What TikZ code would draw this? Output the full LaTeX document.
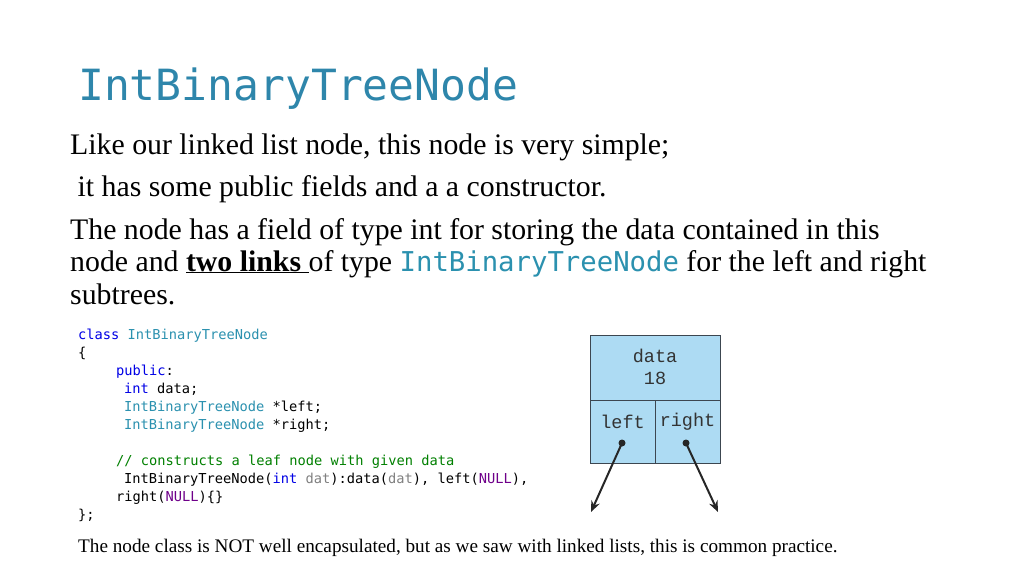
\documentclass[tikz,border=0pt]{standalone}
\usepackage{fontspec}
\setmainfont{Liberation Serif}
\newfontfamily\codef{DejaVu Sans Mono}
\newfontfamily\boxf{Liberation Mono}
\usetikzlibrary{arrows.meta}
\definecolor{ttl}{RGB}{46,134,171}
\definecolor{kw}{RGB}{0,0,230}
\definecolor{ty}{RGB}{43,145,175}
\definecolor{cm}{RGB}{0,128,0}
\definecolor{nl}{RGB}{111,0,138}
\definecolor{gr}{RGB}{128,128,128}
\definecolor{cell}{RGB}{173,219,243}
\definecolor{cellline}{RGB}{60,70,80}
\begin{document}
\begin{tikzpicture}[x=1pt,y=-1pt,
  body/.style={anchor=base west,inner sep=0,font=\fontsize{29.8}{30}\selectfont},
  code/.style={anchor=base west,inner sep=0,font=\codef\fontsize{13.7}{13.7}\selectfont},
  cellbox/.style={draw=cellline,fill=cell,line width=1pt},
  ptr/.style={line width=2pt,-{Stealth[length=11pt,width=9pt]}}]
\useasboundingbox (0,0) rectangle (1024,576);
\fill[white] (0,0) rectangle (1024,576);
\node[anchor=base west,inner sep=0,text=ttl,font=\codef\fontsize{43}{43}\selectfont] (title) at (78,100) {IntBinaryTreeNode};
\node[body] (l1) at (70,154) {Like our linked list node, this node is very simple;};
\node[body] (l2) at (70,196) {\ it has some public fields and a a constructor.};
\node[body] (l3) at (70,239) {The node has a field of type int for storing the data contained in this};
\node[body] (l4) at (70,271) {node and \textbf{\underline{two links }}of type {\codef\color{ty}\fontsize{27.3}{26}\selectfont IntBinaryTreeNode} for the left and right};
\node[body] (l5) at (70,304) {subtrees.};
\node[code] (c1) at (78,339) {\color{kw}class \color{ty}IntBinaryTreeNode};
\node[code] (c2) at (78,357) {\{};
\node[code] (c3) at (116,375) {\color{kw}public\color{black}:};
\node[code] (c4) at (124,393) {\color{kw}int \color{black}data;};
\node[code] (c5) at (124,411) {\color{ty}IntBinaryTreeNode \color{black}*left;};
\node[code] (c6) at (124,429) {\color{ty}IntBinaryTreeNode \color{black}*right;};
\node[code] (c7) at (116,465) {\color{cm}// constructs a leaf node with given data};
\node[code] (c8) at (124,483) {IntBinaryTreeNode(\textcolor{kw}{int} \textcolor{gr}{dat}):data(\textcolor{gr}{dat}), left(\textcolor{nl}{NULL}),};
\node[code] (c9) at (116,501) {right(\textcolor{nl}{NULL})\{\}};
\node[code] (c10) at (78,519) {\};};
\node[anchor=base west,inner sep=0,font=\fontsize{19.2}{19.2}\selectfont] (foot) at (78,552) {The node class is NOT well encapsulated, but as we saw with linked lists, this is common practice.};
\draw[cellbox] (590,335) rectangle (720,400);
\draw[cellbox] (590,400) rectangle (655,463);
\draw[cellbox] (655,400) rectangle (720,463);
\node[font=\boxf\fontsize{18.5}{22}\selectfont,align=center,text=black!80] (d) at (655,367) {data\\18};
\node[font=\boxf\fontsize{18.5}{18}\selectfont,text=black!80] (lf) at (622.5,422) {left};
\node[font=\boxf\fontsize{18.5}{18}\selectfont,text=black!80] (rt) at (687.5,422) {right};
\coordinate (ld) at (622,443);
\coordinate (rd) at (686,443);
\coordinate (le) at (591,512);
\coordinate (re) at (718,512);
\fill[black!85] (ld) circle (3.5pt) (rd) circle (3.5pt);
\draw[ptr,black!85] (ld) -- (le);
\draw[ptr,black!85] (rd) -- (re);
\end{tikzpicture}
\end{document}
